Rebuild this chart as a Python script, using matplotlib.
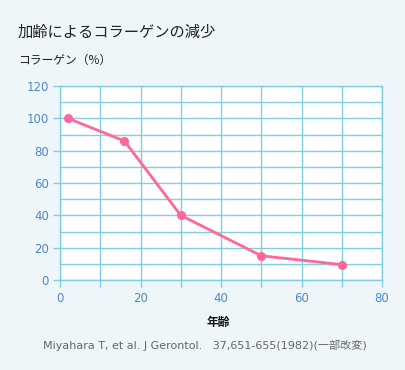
import matplotlib
matplotlib.use("Agg")
import matplotlib.pyplot as plt
from matplotlib.ticker import MultipleLocator

# ------------------------------------------------------
# Collagen vs age data
# ------------------------------------------------------
ages = [2, 16, 30, 50, 70]
collagen = [100, 86, 40, 15, 9.5]
x_ticks = [0, 20, 40, 60, 80]
y_ticks = [0, 20, 40, 60, 80, 100, 120]

BG = "#eef6fa"
GRID = "#7fcfe0"
TICK = "#5088c4"
PINK = "#ff6699"

plt.rcParams['font.family'] = ['Noto Sans CJK JP', 'DejaVu Sans']
LATIN = ['DejaVu Sans', 'Noto Sans CJK JP']

fig = plt.figure(figsize=(4.05, 3.70), dpi=100, facecolor=BG)
ax = fig.add_axes([60 / 405, 1 - 280 / 370, 322 / 405, 194 / 370])
ax.set_facecolor("white")

ax.plot(ages, collagen, color=PINK, lw=2, marker='o', ms=5.5, zorder=3, clip_on=False)

ax.set_xlim(0, 80)
ax.set_ylim(0, 120)
ax.set_xticks(x_ticks)
ax.set_yticks(y_ticks)
ax.xaxis.set_minor_locator(MultipleLocator(10))
ax.yaxis.set_minor_locator(MultipleLocator(10))
ax.grid(True, which='both', color=GRID, lw=1)
ax.set_axisbelow(True)

for s in ax.spines.values():
    s.set_color(GRID)
    s.set_linewidth(1)

ax.tick_params(axis='both', which='both', colors=GRID, labelcolor=TICK,
               labelsize=8.5, length=5, width=1)
ax.tick_params(axis='y', which='minor', length=0)
ax.tick_params(axis='x', pad=4)
ax.tick_params(axis='y', pad=3)
for lab in ax.get_xticklabels() + ax.get_yticklabels():
    lab.set_family(LATIN)

fig.text(18 / 405, 1 - 32 / 370, "加齢によるコラーゲンの減少", fontsize=11,
         color="#222222", va='center', ha='left')
fig.text(18 / 405, 1 - 60 / 370, "コラーゲン（%）", fontsize=8.5,
         color="#222222", va='center', ha='left')
fig.text(218 / 405, 1 - 322 / 370, "年齢", fontsize=8.5, fontweight='bold',
         color="#111111", va='center', ha='center')
fig.text(205 / 405, 1 - 345 / 370,
         "Miyahara T, et al. J Gerontol.   37,651-655(1982)(一部改変)",
         fontsize=8, color="#666666", va='center', ha='center', family=LATIN)

fig.savefig("out.png", dpi=100, facecolor=BG)
